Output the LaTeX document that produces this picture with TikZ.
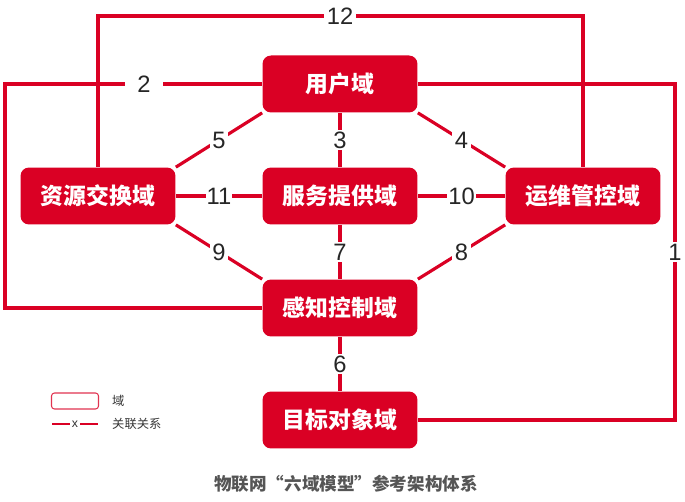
\documentclass[tikz,border=0pt]{standalone}
\usepackage{fontspec}
\setmainfont{Liberation Sans}
\newfontfamily\cjk{Noto Sans CJK SC}
\usetikzlibrary{backgrounds}
\definecolor{myred}{RGB}{218,0,36}
\definecolor{mygray}{RGB}{85,85,85}

\begin{document}
\begin{tikzpicture}[x=0.02cm,y=-0.02cm,
    dom/.style={fill=myred,rounded corners=0.17cm,minimum width=3.1cm,minimum height=1.14cm,
        text=white,font=\cjk\bfseries\fontsize{13}{15}\selectfont},
    rel/.style={draw=myred,line width=1.8pt},
    num/.style={fill=white,inner xsep=1.5pt,inner ysep=1pt,text=black!85,font=\fontsize{13.5}{15}\selectfont},
    legtxt/.style={anchor=west,font=\cjk\fontsize{7}{8}\selectfont,text=black!80}]
        \useasboundingbox (0,0) rectangle (685,502);
        % domains
        \node[dom] (yh) at (340,84) {用户域};
        \node[dom] (zy) at (98,196) {资源交换域};
        \node[dom] (fw) at (340,196) {服务提供域};
        \node[dom] (yw) at (583,196) {运维管控域};
        \node[dom] (gz) at (340,308) {感知控制域};
        \node[dom] (mb) at (340,420) {目标对象域};
        \coordinate (t12) at (340,16);
        \coordinate (l2) at (5,84);
        \coordinate (r1) at (675,84);
        \begin{pgfonlayer}{background}
        % relations
        \draw[rel] (zy.north) |- (t12) node[num] {12} -| (yw.north);
        \draw[rel] (yh.west) -- node[num,pos=0.46,inner xsep=7pt] {2} (l2) |- (gz.west);
        \draw[rel] (yh.east) -- (r1) -- node[num] {1} (r1 |- mb.east) -- (mb.east);
        \draw[rel] (yh) -- node[num] {3} (fw);
        \draw[rel] (yh.south west) -- node[num] {5} (zy.north east);
        \draw[rel] (yh.south east) -- node[num] {4} (yw.north west);
        \draw[rel] (zy) -- node[num,inner xsep=0.5pt] {11} (fw);
        \draw[rel] (fw) -- node[num,inner xsep=0.5pt] {10} (yw);
        \draw[rel] (zy.south east) -- node[num] {9} (gz.north west);
        \draw[rel] (fw) -- node[num] {7} (gz);
        \draw[rel] (yw.south west) -- node[num] {8} (gz.north east);
        \draw[rel] (gz) -- node[num] {6} (mb);
        \end{pgfonlayer}
        % legend
        \node[draw=myred!80,line width=0.6pt,rounded corners=0.06cm,minimum width=0.94cm,minimum height=0.32cm] (lgbox) at (75,401) {};
        \node[legtxt] (lgdom) at (106,401) {域};
        \coordinate (la) at (52,424);
        \coordinate (lb) at (98,424);
        \draw[draw=myred,line width=1pt] (la) -- node[fill=white,inner sep=1pt,font=\fontsize{7}{8}\selectfont,text=black!80] {x} (lb);
        \node[legtxt] (lgrel) at (106,424) {关联关系};
        % caption
        \node[font=\cjk\bfseries\fontsize{10}{12}\selectfont,text=mygray] (cap) at (346,484) {物联网“六域模型”参考架构体系};
    \end{tikzpicture}
\end{document}
